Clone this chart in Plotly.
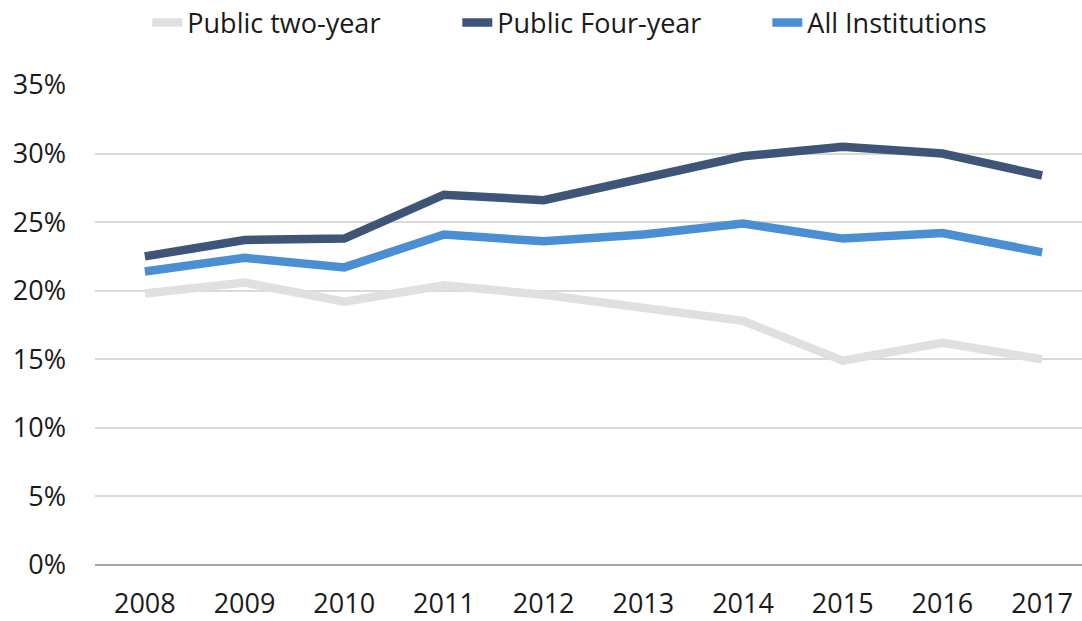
import plotly.graph_objects as go

years = ['2008', '2009', '2010', '2011', '2012', '2013', '2014', '2015', '2016', '2017']

# доли в процентах
public_two_year = [19.8, 20.6, 19.2, 20.4, 19.7, 18.7, 17.8, 14.9, 16.2, 15.0]
public_four_year = [22.5, 23.7, 23.8, 27.0, 26.6, 28.2, 29.8, 30.5, 30.0, 28.4]
all_institutions = [21.4, 22.4, 21.7, 24.1, 23.6, 24.1, 24.9, 23.8, 24.2, 22.8]

series = [
    ('Public two-year', public_two_year, '#E0E0E0'),
    ('Public Four-year', public_four_year, '#3E5578'),
    ('All Institutions', all_institutions, '#4A8ED4'),
]

fig = go.Figure()
for name, values, color in series:
    fig.add_trace(go.Scatter(
        x=years,
        y=[v / 100 for v in values],
        name=name,
        mode='lines',
        line=dict(color=color, width=8.5),
    ))

fig.update_layout(
    width=1082,
    height=621,
    paper_bgcolor='white',
    plot_bgcolor='white',
    font=dict(family='Open Sans', size=27, color='#1a1a1a'),
    margin=dict(l=95, r=0, t=85, b=56),
    legend=dict(
        orientation='h',
        x=0.053, xanchor='left',
        y=0.963, yref='container', yanchor='middle',
        font=dict(size=27),
        entrywidth=265,
        bgcolor='rgba(0,0,0,0)',
    ),
    showlegend=True,
)

fig.update_xaxes(
    type='category',
    range=[-0.5, 9.4],
    showgrid=False,
    showline=False,
    ticks='',
    ticklabelstandoff=20,
    automargin=False,
)

fig.update_yaxes(
    range=[0, 0.35],
    dtick=0.05,
    tickformat='.0%',
    showgrid=True,
    gridcolor='#D9D9D9',
    gridwidth=2,
    zeroline=True,
    zerolinecolor='#A6A6A6',
    zerolinewidth=2,
    ticks='',
    ticklabelstandoff=28,
    automargin=False,
)

# убираем стандартный отступ body, чтобы фигура заняла всё окно
fig.write_html("out.html", config={'displayModeBar': False},
               post_script="document.body.style.margin='0';")
